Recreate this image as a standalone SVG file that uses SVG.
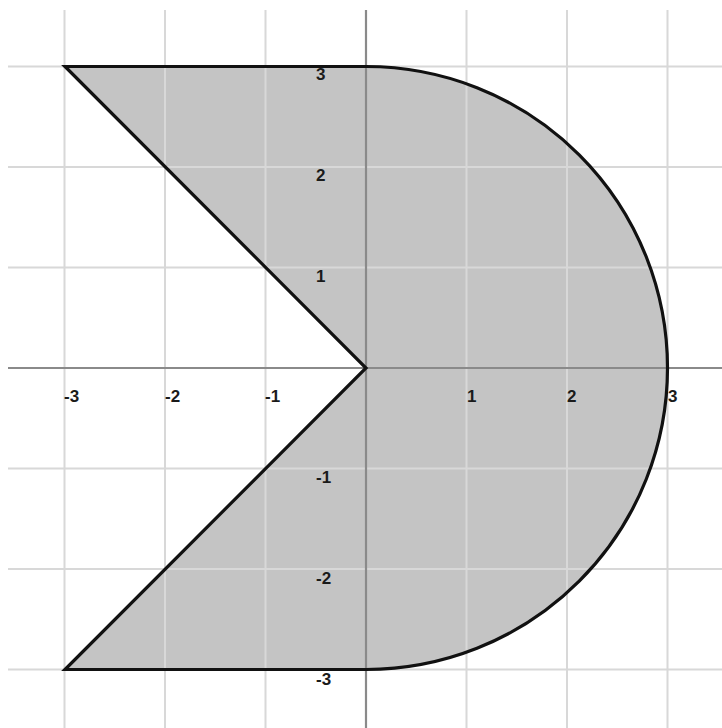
<svg xmlns="http://www.w3.org/2000/svg" width="722" height="728" viewBox="0 0 722 728">
  <style>
    .grid { stroke: #d8d8d8; stroke-width: 2; fill: none; }
    .axis { stroke: #8a8a8a; stroke-width: 2.2; fill: none; }
    .lbl { font-family: "Liberation Sans", Arial, sans-serif; font-size: 17px; font-weight: bold; fill: #1a1a1a; }
  </style>
  <defs>
    <path id="shape" d="M65,66.5 L366,66.5 A301.5,301.5 0 0 1 366,669.5 L65,669.5 L366,368 Z"/>
  </defs>
  <rect width="722" height="728" fill="#ffffff"/>
  <use href="#shape" fill="#c4c4c4" stroke="none"/>
  <g id="grid">
    <line class="grid" x1="64.5" y1="10" x2="64.5" y2="728"/>
    <line class="grid" x1="165" y1="10" x2="165" y2="728"/>
    <line class="grid" x1="265.5" y1="10" x2="265.5" y2="728"/>
    <line class="grid" x1="466.5" y1="10" x2="466.5" y2="728"/>
    <line class="grid" x1="567" y1="10" x2="567" y2="728"/>
    <line class="grid" x1="667.5" y1="10" x2="667.5" y2="728"/>
    <line class="grid" x1="8" y1="66.5" x2="722" y2="66.5"/>
    <line class="grid" x1="8" y1="167" x2="722" y2="167"/>
    <line class="grid" x1="8" y1="267.5" x2="722" y2="267.5"/>
    <line class="grid" x1="8" y1="468.5" x2="722" y2="468.5"/>
    <line class="grid" x1="8" y1="569" x2="722" y2="569"/>
    <line class="grid" x1="8" y1="669.5" x2="722" y2="669.5"/>
  </g>
  <g id="axes">
    <line class="axis" x1="366" y1="10" x2="366" y2="728"/>
    <line class="axis" x1="8" y1="368" x2="722" y2="368"/>
  </g>
  <use href="#shape" fill="none" stroke="#111" stroke-width="3.2" stroke-linejoin="miter"/>
  <g id="labels">
    <text class="lbl" x="64" y="402">-3</text>
    <text class="lbl" x="165" y="402">-2</text>
    <text class="lbl" x="265" y="402">-1</text>
    <text class="lbl" x="467" y="402">1</text>
    <text class="lbl" x="567" y="402">2</text>
    <text class="lbl" x="668" y="402">3</text>
    <text class="lbl" x="316" y="80">3</text>
    <text class="lbl" x="316" y="181">2</text>
    <text class="lbl" x="316" y="282">1</text>
    <text class="lbl" x="316" y="483">-1</text>
    <text class="lbl" x="316" y="584">-2</text>
    <text class="lbl" x="316" y="685">-3</text>
  </g>
</svg>
